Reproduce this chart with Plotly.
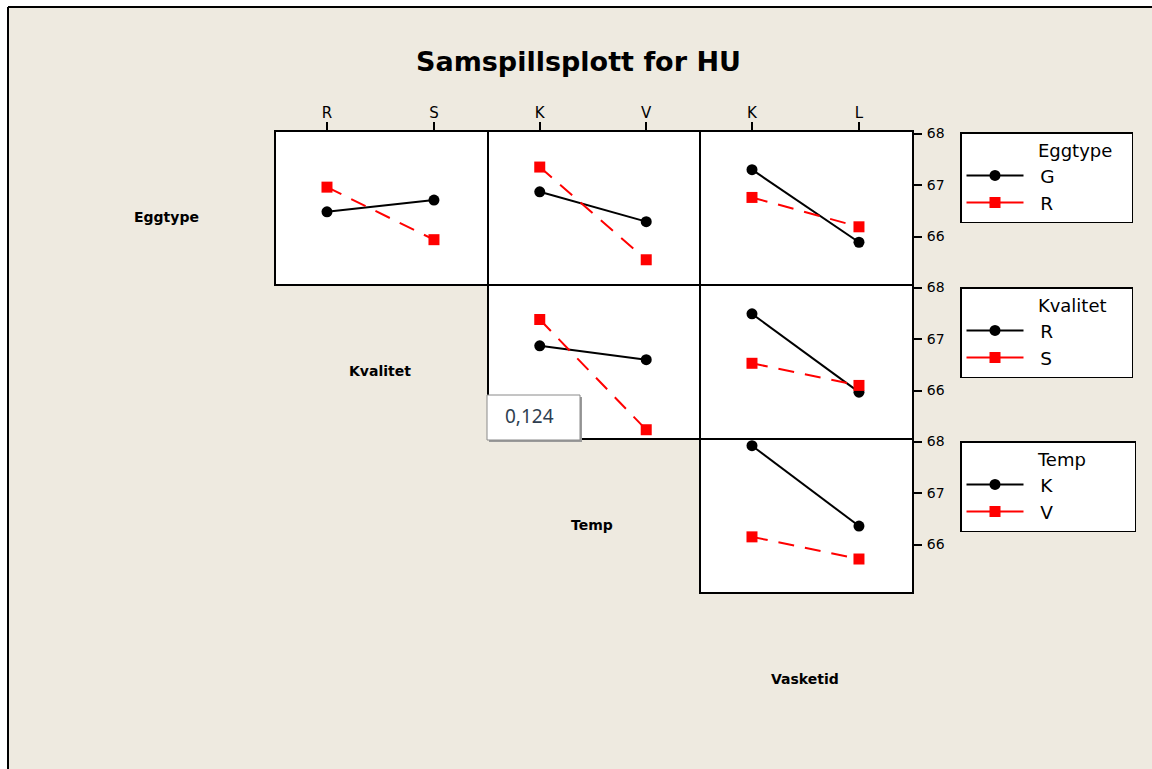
import plotly.graph_objects as go

W, H = 1152, 769

# ---- data ----
eggtype_levels = ["G", "R"]
kvalitet_levels = ["R", "S"]
temp_levels = ["K", "V"]
vasketid_levels = ["K", "L"]

# means of HU (row factor = legend/series, column factor = x axis)
egg_by_kval_G = [66.48, 66.71]
egg_by_kval_R = [66.96, 65.94]
egg_by_temp_G = [66.87, 66.29]
egg_by_temp_R = [67.35, 65.55]
egg_by_vask_G = [67.30, 65.89]
egg_by_vask_R = [66.76, 66.19]
kval_by_temp_R = [66.87, 66.60]
kval_by_temp_S = [67.38, 65.24]
kval_by_vask_R = [67.49, 65.97]
kval_by_vask_S = [66.53, 66.10]
temp_by_vask_K = [67.92, 66.36]
temp_by_vask_V = [66.15, 65.72]

factor_names = ["Eggtype", "Kvalitet", "Temp", "Vasketid"]
y_ticks = [66, 67, 68]
tooltip_text = "0,124"

# ---- layout helpers ----
col_px = [(275, 488), (488, 700), (700, 913)]
row_px = [(131, 285), (285, 439), (439, 593)]


def px_x(x):
    return x / W


def px_y(y):
    return 1 - y / H


panels = [
    # (row, col, x levels, series A, series B, legend, series levels)
    (0, 0, kvalitet_levels, egg_by_kval_G, egg_by_kval_R, "legend", eggtype_levels),
    (0, 1, temp_levels, egg_by_temp_G, egg_by_temp_R, "legend", eggtype_levels),
    (0, 2, vasketid_levels, egg_by_vask_G, egg_by_vask_R, "legend", eggtype_levels),
    (1, 1, temp_levels, kval_by_temp_R, kval_by_temp_S, "legend2", kvalitet_levels),
    (1, 2, vasketid_levels, kval_by_vask_R, kval_by_vask_S, "legend2", kvalitet_levels),
    (2, 2, vasketid_levels, temp_by_vask_K, temp_by_vask_V, "legend3", temp_levels),
]

FONT = "DejaVu Sans"
NB = "\u00a0"
BLACK_MARKER = dict(symbol="circle", size=11, color="black")
RED_MARKER = dict(symbol="square", size=11, color="#ff0000")

fig = go.Figure()
layout = {}
shapes = []
shown = set()
for i, (r, c, xlev, sa, sb, leg, slev) in enumerate(panels, start=1):
    xa = "x" if i == 1 else f"x{i}"
    ya = "y" if i == 1 else f"y{i}"
    xs = list(range(len(xlev)))
    if leg not in shown:
        shown.add(leg)
        # legend entries (solid sample lines, as in the original legend)
        fig.add_trace(go.Scatter(
            x=[None], y=[None], xaxis=xa, yaxis=ya, mode="lines+markers", name=NB * 2 + slev[0],
            line=dict(color="black", width=2), marker=BLACK_MARKER,
            legend=leg, legendgroup=leg + "a", showlegend=True, hoverinfo="skip"))
        fig.add_trace(go.Scatter(
            x=[None], y=[None], xaxis=xa, yaxis=ya, mode="lines+markers", name=NB * 2 + slev[1],
            line=dict(color="#ff0000", width=2), marker=RED_MARKER,
            legend=leg, legendgroup=leg + "b", showlegend=True, hoverinfo="skip"))
    fig.add_trace(go.Scatter(
        x=xs, y=sa, xaxis=xa, yaxis=ya, mode="lines+markers", name=slev[0],
        line=dict(color="black", width=2), marker=BLACK_MARKER,
        showlegend=False, hoverinfo="skip"))
    fig.add_trace(go.Scatter(
        x=xs, y=sb, xaxis=xa, yaxis=ya, mode="lines+markers", name=slev[1],
        line=dict(color="#ff0000", width=2, dash="16px,11px"), marker=RED_MARKER,
        showlegend=False, hoverinfo="skip"))
    x0, x1 = col_px[c]
    y0, y1 = row_px[r]
    top_row = (r == 0)
    right_col = (c == 2)
    layout["xaxis" if i == 1 else f"xaxis{i}"] = dict(
        domain=[px_x(x0), px_x(x1)], anchor=ya, range=[-0.486, 1.505],
        tickvals=xs, ticktext=xlev, side="top",
        showticklabels=top_row, ticks="outside" if top_row else "",
        ticklen=8, tickwidth=1.5, tickcolor="black", ticklabelstandoff=-2,
        showline=False, showgrid=False, zeroline=False, fixedrange=True, automargin=False,
        tickfont=dict(family=FONT, size=15, color="black"))
    layout["yaxis" if i == 1 else f"yaxis{i}"] = dict(
        domain=[px_y(y1), px_y(y0)], anchor=xa, range=[65.06, 68.05],
        tickvals=y_ticks, side="right",
        showticklabels=right_col, ticks="outside" if right_col else "",
        ticklen=8, tickwidth=1.5, tickcolor="black", ticklabelstandoff=2,
        showline=False, showgrid=False, zeroline=False, fixedrange=True, automargin=False,
        tickfont=dict(family=FONT, size=14, color="black"))
    shapes.append(dict(type="rect", xref="paper", yref="paper",
                       x0=px_x(x0), x1=px_x(x1), y0=px_y(y1), y1=px_y(y0),
                       line=dict(color="black", width=2), fillcolor="rgba(0,0,0,0)", layer="above"))

BG = "#EEEAE0"


def legend_cfg(title, top_px, trail):
    return dict(
        title=dict(text=NB * 13 + title + NB * trail, font=dict(family=FONT, size=18, color="black")),
        x=px_x(960), y=px_y(top_px), xanchor="left", yanchor="top",
        bgcolor="white", bordercolor="black", borderwidth=1.5,
        font=dict(family=FONT, size=18.5, color="black"),
        itemwidth=57, tracegroupgap=5, traceorder="normal")


annotations = [
    dict(text="<b>Samspillsplott for HU</b>", x=px_x(578), y=px_y(62), xref="paper", yref="paper",
         xanchor="center", yanchor="middle",
         showarrow=False, font=dict(family=FONT, size=27, color="black")),
]
diag_pos = [(166, 217), (380, 371), (592, 525), (805, 679)]
for name, (dx, dy) in zip(factor_names, diag_pos):
    annotations.append(dict(text=f"<b>{name}</b>", x=px_x(dx), y=px_y(dy), xref="paper", yref="paper",
                            xanchor="center", yanchor="middle",
                            showarrow=False, font=dict(family=FONT, size=14, color="black")))
annotations.append(dict(text=tooltip_text, x=px_x(529), y=px_y(416), xref="paper", yref="paper",
                        xanchor="center", yanchor="middle",
                        showarrow=False, font=dict(family="Noto Sans", size=19, color="#2e3e50")))

shapes += [
    # white margin outside the window frame
    dict(type="rect", xref="paper", yref="paper", x0=0, x1=px_x(8), y0=0, y1=1,
         fillcolor="white", line=dict(width=0), layer="below"),
    dict(type="rect", xref="paper", yref="paper", x0=0, x1=1, y0=px_y(7), y1=1,
         fillcolor="white", line=dict(width=0), layer="below"),
    dict(type="line", xref="paper", yref="paper", x0=px_x(8), x1=px_x(8), y0=0, y1=px_y(7),
         line=dict(color="black", width=2)),
    dict(type="line", xref="paper", yref="paper", x0=px_x(8), x1=1, y0=px_y(7), y1=px_y(7),
         line=dict(color="black", width=2)),
    # tooltip box
    dict(type="rect", xref="paper", yref="paper", x0=px_x(489), x1=px_x(582), y0=px_y(442), y1=px_y(397),
         fillcolor="#9a9a9a", line=dict(width=0), layer="above"),
    dict(type="rect", xref="paper", yref="paper", x0=px_x(487), x1=px_x(580), y0=px_y(440), y1=px_y(395),
         fillcolor="white", line=dict(color="#8a8a8a", width=1), layer="above"),
]

fig.update_layout(
    width=W, height=H, margin=dict(l=0, r=0, t=0, b=0, pad=0, autoexpand=False),
    paper_bgcolor=BG, plot_bgcolor="white",
    legend=legend_cfg("Eggtype", 132, 3),
    legend2=legend_cfg("Kvalitet", 287, 4),
    legend3=legend_cfg("Temp", 441, 8),
    annotations=annotations, shapes=shapes, hovermode=False,
    **layout)

fig.write_html("out.html")
